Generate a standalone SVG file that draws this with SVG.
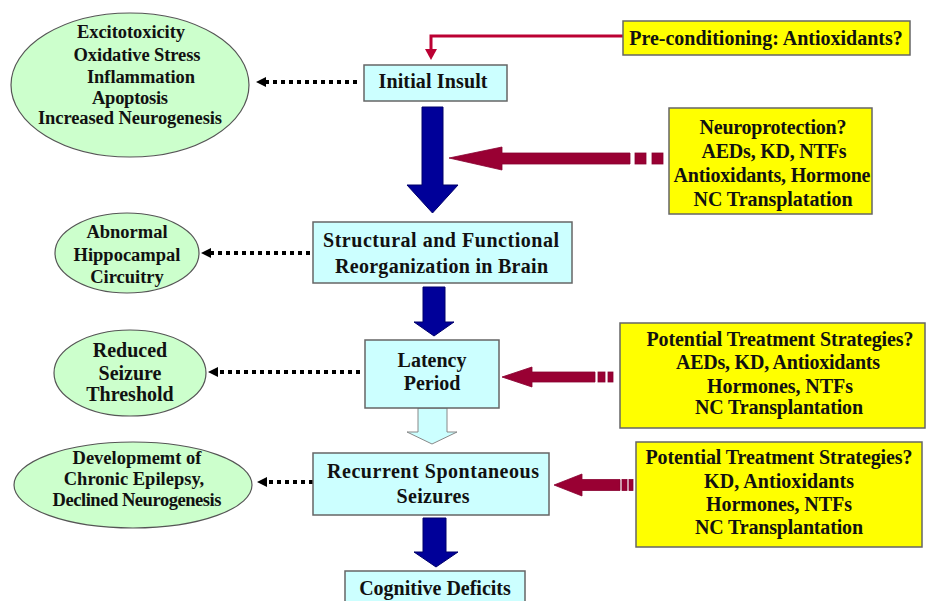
<svg xmlns="http://www.w3.org/2000/svg" width="927" height="601" viewBox="0 0 927 601">
<defs>
<style>
text{font-family:"Liberation Serif","Times New Roman",serif;font-weight:bold;font-size:20px;fill:#111;text-anchor:middle}
text.s{font-size:18.5px}
.ell{fill:#ccffcc;stroke:#555;stroke-width:1.2}
.box{fill:#ccffff;stroke:#666;stroke-width:1.5}
.ybox{fill:#ffff00;stroke:#666;stroke-width:1.5}
.dot{stroke:#000;stroke-width:4;stroke-dasharray:4 4;fill:none}
.blue{fill:#000099;stroke:#00006a;stroke-width:1}
.red{fill:#990033;stroke:#880030;stroke-width:0.8}
</style>
</defs>
<rect width="927" height="601" fill="#fff"/>

<g id="connectors">
<polyline points="623,36 431,36 431,50" fill="none" stroke="#bb0033" stroke-width="3"/>
<path d="M425,49 L437,49 L431,60 Z" fill="#bb0033"/>
<line class="dot" x1="357" y1="82" x2="266" y2="82"/>
<path d="M256,82 L266,77 L266,87 Z" fill="#000"/>
<line class="dot" x1="310" y1="253" x2="211" y2="253"/>
<path d="M201,253 L211,248 L211,258 Z" fill="#000"/>
<line class="dot" x1="360" y1="372" x2="218" y2="372"/>
<path d="M208,372 L218,367 L218,377 Z" fill="#000"/>
<line class="dot" x1="313" y1="482" x2="267" y2="482"/>
<path d="M257,482 L267,477 L267,487 Z" fill="#000"/>
<polygon class="blue" points="422,107 443,107 443,185 458,185 432.5,213 407,185 422,185"/>
<polygon class="blue" points="423,287 445,287 445,322 454,322 434,336 414,322 423,322"/>
<polygon class="blue" points="423,518 446,518 446,552 458,552 436,567 414,552 423,552"/>
<polygon points="418,408 447,408 447,432 457,432 432,444 407,432 418,432" fill="#ccffff" stroke="#888" stroke-width="1"/>
<polygon class="red" points="449,158 502,147 502,153 630,153 630,164 502,164 502,170"/>
<rect class="red" x="635" y="153" width="11" height="11"/>
<rect class="red" x="652" y="153" width="11" height="11"/>
<polygon class="red" points="502,377 532,367 532,372 595,372 595,382 532,382 532,387"/>
<rect class="red" x="598" y="372" width="7" height="10"/>
<rect class="red" x="608" y="372" width="5" height="10"/>
<polygon class="red" points="554,485 582,474 582,479.5 620,479.5 620,490.5 582,490.5 582,496"/>
<rect class="red" x="622" y="479.5" width="5" height="11"/>
<rect class="red" x="629" y="479.5" width="4" height="11"/>
</g>

<g id="n-effects1">
<ellipse class="ell" cx="130" cy="85" rx="119" ry="72"/>
<text class="s" x="131" y="38" textLength="108">Excitotoxicity</text>
<text class="s" x="137" y="60.5" textLength="127">Oxidative Stress</text>
<text class="s" x="141" y="83" textLength="108">Inflammation</text>
<text class="s" x="130" y="103.5" textLength="76">Apoptosis</text>
<text class="s" x="130" y="124" textLength="184">Increased Neurogenesis</text>
</g>
<g id="n-initial">
<rect class="box" x="364" y="65" width="143" height="36"/>
<text x="433" y="88" textLength="109">Initial Insult</text>
</g>
<g id="n-precond">
<rect class="ybox" x="623" y="21" width="287" height="34"/>
<text x="766" y="45">Pre-conditioning: Antioxidants?</text>
</g>
<g id="n-neuroprot">
<rect class="ybox" x="669" y="108" width="203" height="106"/>
<text x="773" y="134" textLength="147">Neuroprotection?</text>
<text x="774" y="158" textLength="145">AEDs, KD, NTFs</text>
<text x="772" y="182" textLength="197">Antioxidants, Hormone</text>
<text x="773" y="206" textLength="159">NC Transplatation</text>
</g>
<g id="n-effects2">
<ellipse class="ell" cx="127" cy="253" rx="72" ry="40"/>
<text class="s" x="127" y="238">Abnormal</text>
<text class="s" x="127" y="261">Hippocampal</text>
<text class="s" x="127" y="283">Circuitry</text>
</g>
<g id="n-structural">
<rect class="box" x="313" y="222" width="259" height="61"/>
<text x="441" y="247" textLength="236">Structural and Functional</text>
<text x="441.5" y="273" textLength="213">Reorganization in Brain</text>
</g>
<g id="n-effects3">
<ellipse class="ell" cx="130" cy="373" rx="76" ry="43"/>
<text x="130" y="357">Reduced</text>
<text x="130" y="380">Seizure</text>
<text x="130" y="401">Threshold</text>
</g>
<g id="n-latency">
<rect class="box" x="365" y="340" width="134" height="68"/>
<text x="432" y="367">Latency</text>
<text x="432" y="390">Period</text>
</g>
<g id="n-treat1">
<rect class="ybox" x="620" y="323" width="305" height="105"/>
<text x="780" y="346" textLength="267">Potential Treatment Strategies?</text>
<text x="778" y="369" textLength="204">AEDs, KD, Antioxidants</text>
<text x="780" y="393" textLength="146">Hormones, NTFs</text>
<text x="779" y="414" textLength="168">NC Transplantation</text>
</g>
<g id="n-effects4">
<ellipse class="ell" cx="133" cy="485" rx="119" ry="43"/>
<text class="s" x="137" y="464">Developmemt of</text>
<text class="s" x="134" y="485">Chronic Epilepsy,</text>
<text class="s" x="137" y="506" textLength="169">Declined Neurogenesis</text>
</g>
<g id="n-recurrent">
<rect class="box" x="313" y="453" width="236" height="62"/>
<text x="433" y="478" textLength="212">Recurrent Spontaneous</text>
<text x="433" y="503" textLength="73">Seizures</text>
</g>
<g id="n-treat2">
<rect class="ybox" x="636" y="442" width="286" height="105"/>
<text x="779" y="464" textLength="267">Potential Treatment Strategies?</text>
<text x="779" y="488" textLength="150">KD, Antioxidants</text>
<text x="779" y="511" textLength="146">Hormones, NTFs</text>
<text x="779" y="534" textLength="168">NC Transplantation</text>
</g>
<g id="n-cognitive">
<rect class="box" x="345" y="571" width="180" height="36"/>
<text x="435" y="595">Cognitive Deficits</text>
</g>
</svg>
